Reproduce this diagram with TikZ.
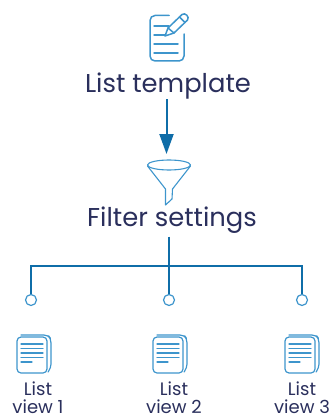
\documentclass[tikz,border=0pt]{standalone}
\usepackage{fontspec}
\setmainfont{Poppins}
\usetikzlibrary{arrows.meta}
\definecolor{wire}{HTML}{0F6DA8}
\definecolor{icon}{HTML}{3D95CC}
\definecolor{ink}{HTML}{2A2F5C}
\tikzset{
  x=1pt,y=-1pt,
  wirel/.style={draw=wire,line width=2.2pt},
  iconl/.style={draw=icon,line width=1.5pt,line cap=round,line join=round},
  biglabel/.style={text=ink,font=\fontsize{25.8}{28}\selectfont,inner sep=0pt},
  smalllabel/.style={text=ink,font=\fontsize{18}{18}\selectfont,inner sep=0pt,align=center},
  dot/.style={circle,draw=icon,line width=1.2pt,fill=white,minimum size=11pt,inner sep=0pt},
  pics/stack/.style={code={
    \draw[iconl,line width=1.2pt,rounded corners=4pt] (-13,-19) -- (14,-19) -- (17,-15) -- (17,14) -- (14,18);
    \draw[iconl,line width=1.2pt,rounded corners=4pt] (-17,-17) -- (13,-17) -- (13,19) -- (-17,19) -- cycle;
    \draw[iconl,line width=1.2pt] (-13,-10) -- (9,-10) (-13,-5.5) -- (9,-5.5) (-13,-1) -- (9,-1) (-13,3.5) -- (9,3.5) (-13,8) -- (-2,8);
  }}
}
\begin{document}
\begin{tikzpicture}
\useasboundingbox (0,0) rectangle (335,417);
% template icon
\draw[iconl,rounded corners=5pt] (169,15.5) -- (150,15.5) -- (150,61) -- (184,61) -- (184,34);
\draw[iconl] (154,26) -- (169,26) (154,35) -- (165,35) (154,44) -- (178,44) (154,53) -- (178,53);
\draw[iconl,fill=white] (165,36) -- (168,28) -- (182,14.5) .. controls (185,12) and (190,17) .. (187.5,20) -- (174,33) -- cycle;
\draw[iconl] (179.5,17) -- (185,22.5) (168,28) -- (174,33);
\node[biglabel] (tmpl) at (168,86) {List template};
% funnel
\coordinate (funneltop) at (166.5,154);
\draw[iconl,line width=1.1pt] (169,165) ellipse (21.5 and 5);
\draw[iconl,line width=1.1pt] (147.5,166) -- (165.5,189) -- (165.5,205) -- (172,199) -- (172.5,189) -- (190.5,166);
\node[biglabel] (filter) at (172,220) {Filter settings};
% arrow
\draw[wire,line width=2pt,-{Triangle[length=20pt,width=14pt]}] (tmpl.south -| funneltop) ++(0,0) -- (funneltop);
% tree
\node[dot] (d1) at (31,300) {};
\node[dot] (d2) at (169,300) {};
\node[dot] (d3) at (302,300) {};
\coordinate (hub) at (169,266);
\draw[wirel] (filter.south -| hub) ++(0,3) -- (hub);
\draw[wirel] (d1.north) -- (d1.north |- hub) -- (d3.north |- hub) -- (d3.north);
\draw[wirel] (hub) -- (d2.north);
% list views
\pic at (34,354) {stack};
\pic at (170,354) {stack};
\pic at (302,354) {stack};
\node[smalllabel] (l1) at (38,398) {List\\view 1};
\node[smalllabel] (l2) at (174,398) {List\\view 2};
\node[smalllabel] (l3) at (302,398) {List\\view 3};
\end{tikzpicture}
\end{document}
